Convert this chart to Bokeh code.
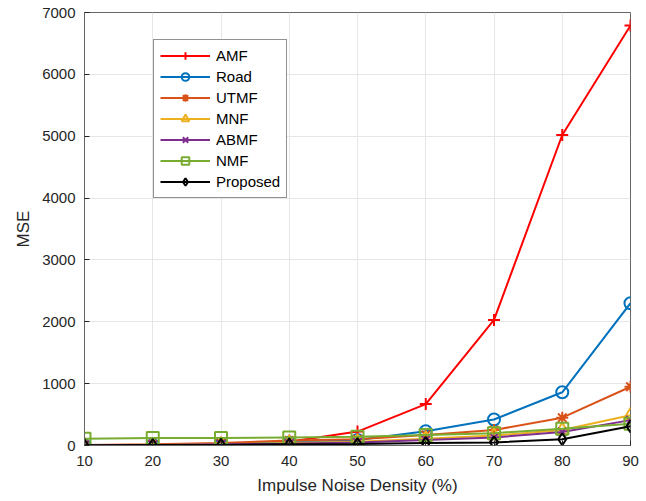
from bokeh.plotting import figure
from bokeh.models import Range1d, FixedTicker, Legend, LegendItem
from bokeh.embed import file_html
from bokeh.resources import INLINE

density = [10, 20, 30, 40, 50, 60, 70, 80, 90]
amf = [5, 10, 20, 60, 225, 670, 2030, 5020, 6790]
road = [5, 10, 20, 50, 90, 230, 420, 860, 2300]
utmf = [10, 20, 40, 80, 100, 170, 250, 450, 950]
mnf = [5, 10, 20, 40, 60, 110, 160, 250, 490]
abmf = [5, 10, 20, 30, 50, 90, 130, 220, 410]
nmf = [110, 120, 120, 130, 140, 170, 200, 270, 350]
proposed = [5, 8, 10, 20, 25, 40, 50, 100, 310]
y_ticks = [0, 1000, 2000, 3000, 4000, 5000, 6000, 7000]

series = [
    ("AMF", amf, "#FF0000", "cross"),
    ("Road", road, "#0072BD", "circle"),
    ("UTMF", utmf, "#D95319", "asterisk"),
    ("MNF", mnf, "#EDB120", "triangle"),
    ("ABMF", abmf, "#7E2F8E", "x"),
    ("NMF", nmf, "#77AC30", "square"),
    ("Proposed", proposed, "#000000", "diamond"),
]

p = figure(width=646, height=501, output_backend="svg", toolbar_location=None,
           x_range=Range1d(10, 90), y_range=Range1d(0, 7000),
           min_border_left=84, min_border_right=16, min_border_top=12, min_border_bottom=56)
p.background_fill_color = "white"
p.outline_line_color = "#666666"
p.outline_line_width = 1

items = []
for name, vals, color, marker in series:
    r1 = p.line(density, vals, line_color=color, line_width=2)
    r2 = p.scatter(density, vals, marker=marker, size=12 if marker != "triangle" else 13,
                   line_color=color, fill_color=None, line_width=2)
    items.append(LegendItem(label=name, renderers=[r1, r2]))

font = "Liberation Sans"
for ax in (p.xaxis[0], p.yaxis[0]):
    ax.major_label_text_font = font
    ax.major_label_text_font_size = "15px"
    ax.major_label_text_color = "#262626"
    ax.axis_label_text_font = font
    ax.axis_label_text_font_size = "17px"
    ax.axis_label_text_font_style = "normal"
    ax.axis_label_text_color = "#262626"
    ax.axis_line_color = "#666666"
    ax.major_tick_line_color = "#262626"
    ax.major_tick_in = 5
    ax.major_tick_out = 0
    ax.minor_tick_line_color = None

p.xaxis.ticker = FixedTicker(ticks=density)
p.yaxis.ticker = FixedTicker(ticks=y_ticks)
p.xaxis.axis_label = "Impulse Noise Density (%)"
p.yaxis.axis_label = "MSE"
p.xaxis.major_label_standoff = 10
p.yaxis.major_label_standoff = 9
p.xaxis.axis_label_standoff = 7
p.yaxis.axis_label_standoff = 6

p.xgrid.grid_line_color = "#e6e6e6"
p.ygrid.grid_line_color = "#e6e6e6"

legend = Legend(items=items, location=(69, 247))
legend.label_text_font = font
legend.label_text_font_size = "15px"
legend.label_text_color = "#000000"
legend.glyph_width = 50
legend.glyph_height = 19
legend.spacing = 2
legend.padding = 6
legend.margin = 0
legend.label_standoff = 6
legend.border_line_color = "#262626"
legend.border_line_width = 1
legend.background_fill_color = "white"
legend.background_fill_alpha = 1
p.add_layout(legend, "center")

open("out.html", "w").write(file_html(p, INLINE))
